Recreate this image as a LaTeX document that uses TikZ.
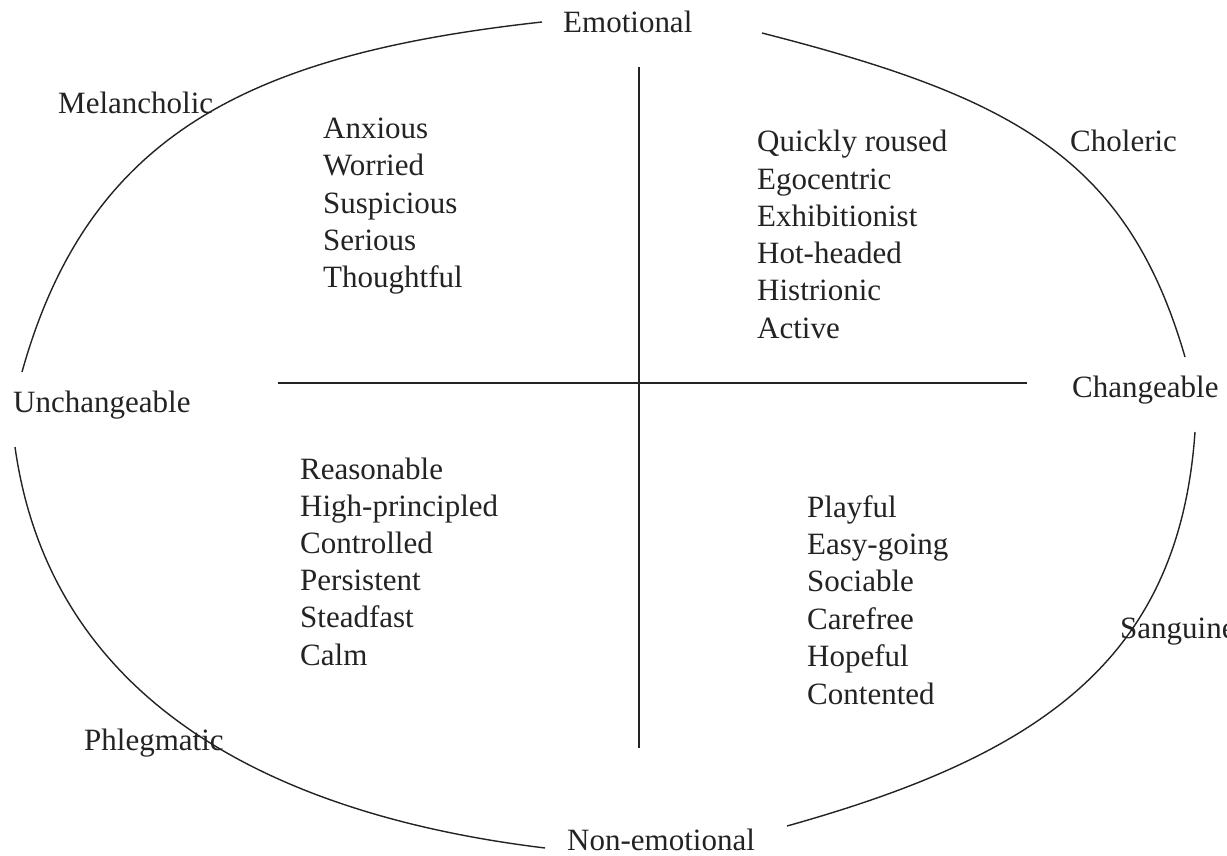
\documentclass[tikz,border=0pt]{standalone}
\usepackage{fontspec}
\setmainfont{Liberation Serif}
\definecolor{ink}{RGB}{35,35,35}
\begin{document}
\begin{tikzpicture}[x=1pt,y=-1pt,
  lbl/.style={inner sep=0pt, anchor=base west, font=\fontsize{31}{37}\selectfont, text=ink},
  curve/.style={line width=1.4pt, draw=ink},
  axis/.style={line width=1.3pt, draw=ink}]
\fill[white] (0,0) rectangle (1227,856);
\useasboundingbox (0,0) rectangle (1227,856);
% outer oval, four quarters
\draw[curve] (542,22) .. controls (252,54) and (89,132) .. (22,372);
\draw[curve] (15,447) .. controls (50,697) and (265,814) .. (545,848);
\draw[curve] (762,33) .. controls (1012,97) and (1127,157) .. (1185,357);
\draw[curve] (1195,432) .. controls (1179,662) and (1037,756) .. (787,826);
% axes
\coordinate (vt) at (639,67);
\coordinate (vb) at (639,748);
\coordinate (hl) at (278,383);
\coordinate (hr) at (1027,383);
\draw[axis] (vt) -- (vb);
\draw[axis] (hl) -- (hr);
% outer labels
\node[lbl] (emo) at (563,33) {Emotional};
\node[lbl] (nonemo) at (567,850) {Non-emotional};
\node[lbl] (unch) at (13,412) {Unchangeable};
\node[lbl] (ch) at (1072,397) {Changeable};
\node[lbl] (mel) at (58,114) {Melancholic};
\node[lbl] (chol) at (1070,152) {Choleric};
\node[lbl] (phl) at (84,750) {Phlegmatic};
\node[lbl] (san) at (1120,638) {Sanguine};
% quadrant word lists
\foreach \w [count=\i] in {Anxious,Worried,Suspicious,Serious,Thoughtful}
  \node[lbl] (mw\i) at (323,{139+37*(\i-1)}) {\w};
\foreach \w [count=\i] in {Quickly roused,Egocentric,Exhibitionist,Hot-headed,Histrionic,Active}
  \node[lbl] (cw\i) at (757,{152+37.2*(\i-1)}) {\w};
\foreach \w [count=\i] in {Reasonable,High-principled,Controlled,Persistent,Steadfast,Calm}
  \node[lbl] (pw\i) at (300,{479+37.2*(\i-1)}) {\w};
\foreach \w [count=\i] in {Playful,Easy-going,Sociable,Carefree,Hopeful,Contented}
  \node[lbl] (sw\i) at (807,{517+37.4*(\i-1)}) {\w};
\end{tikzpicture}
\end{document}
